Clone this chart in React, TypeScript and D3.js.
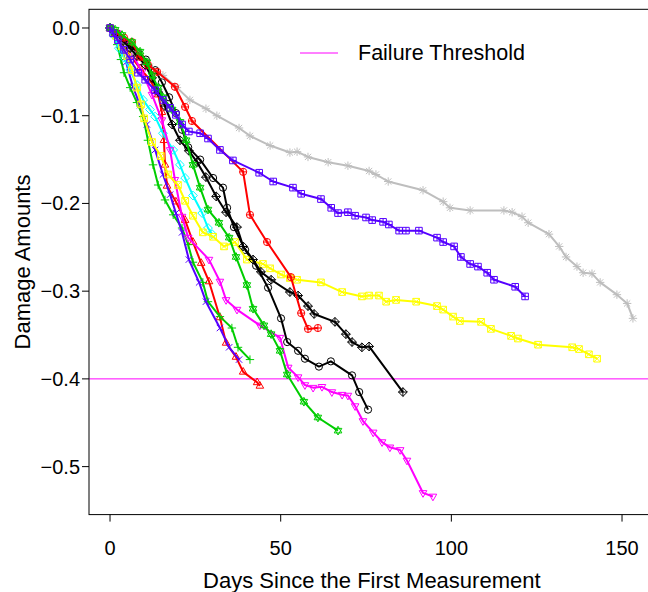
import React from "react";
import * as d3 from "d3";

const W = 648;
const H = 592;

// series data: [days, damage]
const s1: [number, number][] = [[0,0],[2.1,-0.006],[4.1,-0.014],[6.2,-0.021],[8.2,-0.028],[10.5,-0.036],[13.2,-0.048],[15.2,-0.062],[17.3,-0.079],[19.3,-0.097],[21.1,-0.116],[22.9,-0.136],[26.4,-0.15],[30.2,-0.171],[33.1,-0.182],[34.3,-0.205],[36.3,-0.227],[39.6,-0.253],[42.8,-0.271],[46.3,-0.296],[50.1,-0.331],[51.9,-0.358],[55.1,-0.368],[57.1,-0.377],[61.2,-0.386],[64.7,-0.38],[70.9,-0.396],[73.0,-0.415],[75.6,-0.435]];
const s2: [number, number][] = [[0,0],[1.5,-0.006],[3.5,-0.016],[5.9,-0.031],[8.8,-0.046],[11.7,-0.059],[14.1,-0.076],[15.2,-0.096],[15.8,-0.128],[16.1,-0.156],[16.7,-0.18],[19.3,-0.198],[22.0,-0.219],[24.3,-0.244],[26.7,-0.268],[29.0,-0.289],[32.2,-0.33],[34.0,-0.359],[36.9,-0.375],[39.0,-0.392],[43.1,-0.404],[43.9,-0.408]];
const s3: [number, number][] = [[0,0],[0.9,-0.008],[2.1,-0.019],[3.2,-0.036],[4.1,-0.051],[5.9,-0.068],[7.9,-0.085],[9.7,-0.101],[11.1,-0.128],[12.6,-0.156],[14.1,-0.179],[16.1,-0.196],[18.5,-0.213],[21.1,-0.228],[22.9,-0.247],[24.3,-0.267],[27.2,-0.29],[28.7,-0.312],[32.2,-0.329],[35.7,-0.342],[37.5,-0.364],[41.0,-0.378]];
const s4: [number, number][] = [[0,0],[1.2,-0.007],[2.9,-0.019],[4.7,-0.039],[6.7,-0.067],[8.8,-0.088],[10.8,-0.11],[13.2,-0.139],[15.5,-0.167],[17.6,-0.19],[19.3,-0.211],[21.1,-0.233],[23.1,-0.264],[26.1,-0.29],[28.1,-0.312],[32.2,-0.342],[34.9,-0.364],[37.8,-0.378]];
const s5: [number, number][] = [[0,0],[1.2,-0.009],[2.6,-0.023],[4.1,-0.034],[5.9,-0.048],[7.9,-0.065],[9.7,-0.082],[11.7,-0.093],[13.2,-0.101],[15.5,-0.12],[18.5,-0.139],[20.5,-0.156],[22.0,-0.171],[24.3,-0.191],[27.0,-0.211],[28.7,-0.228],[29.9,-0.235]];
const s6: [number, number][] = [[0,0],[2.1,-0.006],[4.4,-0.016],[6.7,-0.031],[9.4,-0.05],[12.3,-0.076],[15.2,-0.105],[17.6,-0.139],[19.0,-0.173],[21.1,-0.215],[22.9,-0.239],[29.0,-0.264],[32.2,-0.289],[34.0,-0.31],[37.2,-0.321],[43.9,-0.339],[49.8,-0.353],[52.2,-0.387],[55.1,-0.398],[57.1,-0.407],[59.5,-0.41],[62.1,-0.409],[65.0,-0.415],[68.0,-0.418],[69.7,-0.419],[71.8,-0.431],[74.1,-0.448],[77.1,-0.461],[79.7,-0.472],[82.0,-0.478],[85.0,-0.481],[87.0,-0.493],[91.7,-0.53],[94.6,-0.534]];
const s7: [number, number][] = [[0,0],[1.8,-0.009],[3.5,-0.021],[5.0,-0.032],[6.4,-0.048],[7.9,-0.068],[9.1,-0.087],[10.0,-0.103],[12.3,-0.13],[14.9,-0.146],[17.0,-0.167],[19.9,-0.179],[22.0,-0.197],[24.3,-0.214],[27.2,-0.233],[30.2,-0.238],[33.4,-0.249],[36.6,-0.244],[40.1,-0.264],[44.8,-0.269],[46.9,-0.274],[50.1,-0.281],[52.7,-0.285],[54.8,-0.287],[61.8,-0.29],[68.0,-0.301],[73.8,-0.306],[75.9,-0.305],[78.8,-0.305],[80.9,-0.312],[83.8,-0.31],[89.7,-0.312],[95.8,-0.317],[97.6,-0.321],[100.5,-0.329],[102.5,-0.334],[108.7,-0.335],[111.6,-0.343],[117.5,-0.351],[119.5,-0.354],[125.4,-0.361],[135.4,-0.364],[137.4,-0.366],[140.3,-0.372],[142.7,-0.377]];
const s8: [number, number][] = [[0,0],[2.9,-0.014],[7.3,-0.031],[11.7,-0.044],[15.5,-0.054],[19.6,-0.068],[23.4,-0.082],[28.1,-0.092],[31.3,-0.1],[37.8,-0.114],[41.0,-0.123],[46.9,-0.134],[52.7,-0.142],[54.8,-0.141],[58.0,-0.147],[63.9,-0.153],[69.7,-0.157],[75.9,-0.163],[77.9,-0.167],[81.5,-0.175],[91.7,-0.185],[97.6,-0.198],[99.6,-0.205],[105.5,-0.208],[115.4,-0.208],[117.8,-0.21],[120.7,-0.215],[122.5,-0.222],[128.6,-0.235],[131.6,-0.249],[133.6,-0.261],[136.8,-0.272],[138.6,-0.279],[141.2,-0.28],[143.6,-0.29],[148.5,-0.304],[151.5,-0.314],[153.2,-0.331]];
const s9: [number, number][] = [[0,0],[1.8,-0.007],[3.8,-0.015],[5.9,-0.023],[7.9,-0.032],[10.3,-0.042],[12.3,-0.057],[14.1,-0.073],[16.1,-0.089],[18.2,-0.11],[20.5,-0.128],[23.1,-0.14],[25.5,-0.153],[28.1,-0.17],[31.1,-0.192],[34.0,-0.21],[37.2,-0.227],[39.0,-0.249],[41.9,-0.264],[44.2,-0.278],[47.2,-0.287],[52.7,-0.301],[55.1,-0.305],[58.0,-0.317],[59.8,-0.326],[65.9,-0.335],[69.1,-0.349],[70.9,-0.358],[73.8,-0.364],[75.9,-0.363],[85.8,-0.415]];
const s10: [number, number][] = [[0,0],[1.8,-0.006],[4.1,-0.011],[6.4,-0.016],[8.8,-0.033],[11.1,-0.042],[13.8,-0.05],[19.0,-0.067],[22.0,-0.09],[24.0,-0.106],[39.0,-0.164],[41.0,-0.213],[46.0,-0.244],[53.0,-0.284],[56.0,-0.325],[58.0,-0.343],[60.9,-0.342]];
const s11: [number, number][] = [[0,0],[1.5,-0.002],[3.5,-0.008],[6.4,-0.016],[8.8,-0.027],[10.8,-0.039],[12.3,-0.054],[14.1,-0.068],[15.5,-0.079],[18.2,-0.093],[20.5,-0.107],[22.3,-0.128],[24.3,-0.156],[26.4,-0.182],[28.7,-0.207],[31.9,-0.222],[34.9,-0.239],[36.9,-0.261],[40.1,-0.293],[41.9,-0.32],[45.1,-0.339],[47.2,-0.349],[49.8,-0.368],[51.9,-0.395],[56.8,-0.426],[60.9,-0.444],[66.8,-0.459]];
const s12: [number, number][] = [[0,0],[0.9,-0.006],[2.3,-0.014],[4.1,-0.025],[5.9,-0.036],[8.2,-0.051],[10.3,-0.059],[13.2,-0.071],[15.5,-0.082],[17.6,-0.091],[19.3,-0.099],[21.1,-0.11],[23.1,-0.118],[26.4,-0.12],[28.7,-0.126],[32.2,-0.139],[36.0,-0.151],[43.7,-0.165],[47.8,-0.175],[53.6,-0.182],[56.0,-0.189],[61.8,-0.195],[64.8,-0.205],[66.8,-0.211],[69.7,-0.21],[71.8,-0.214],[75.0,-0.216],[76.8,-0.219],[80.0,-0.221],[81.7,-0.224],[84.7,-0.231],[86.7,-0.231],[90.5,-0.231],[95.8,-0.239],[97.6,-0.244],[100.8,-0.249],[102.8,-0.261],[105.5,-0.269],[107.8,-0.272],[110.5,-0.279],[112.5,-0.287],[118.7,-0.295],[121.6,-0.306]];

const seriesList = [s1, s2, s3, s4, s5, s6, s7, s8, s9, s10, s11, s12];
const seriesColors = ["#000000", "#FF0000", "#00CD00", "#5500FF", "#00FFFF", "#FF00FF", "#FFFF00", "#BEBEBE", "#000000", "#FF0000", "#00CD00", "#5500FF"];
const seriesPch = [1, 2, 3, 4, 5, 6, 7, 8, 9, 10, 11, 12];

const xTicks = [0, 50, 100, 150];
const yTicks = [0, -0.1, -0.2, -0.3, -0.4, -0.5];
const yTickLabels = ["0.0", "\u22120.1", "\u22120.2", "\u22120.3", "\u22120.4", "\u22120.5"];
const threshold = -0.4;
const legendLabel = "Failure Threshold";
const xTitle = "Days Since the First Measurement";
const yTitle = "Damage Amounts";

const FONT = "'Liberation Sans', Arial, Helvetica, sans-serif";

function markerPath(pch: number): string {
  const p = d3.path();
  const circle = (r: number) => { p.moveTo(r, 0); p.arc(0, 0, r, 0, Math.PI * 2); };
  const plus = (s: number) => { p.moveTo(-s, 0); p.lineTo(s, 0); p.moveTo(0, -s); p.lineTo(0, s); };
  const cross = (s: number) => { p.moveTo(-s, -s); p.lineTo(s, s); p.moveTo(-s, s); p.lineTo(s, -s); };
  const square = (s: number) => { p.rect(-s, -s, 2 * s, 2 * s); };
  const diamond = (s: number) => { p.moveTo(0, -s); p.lineTo(s, 0); p.lineTo(0, s); p.lineTo(-s, 0); p.closePath(); };
  const triUp = (s: number) => { p.moveTo(0, -s * 1.15); p.lineTo(s, s * 0.6); p.lineTo(-s, s * 0.6); p.closePath(); };
  const triDown = (s: number) => { p.moveTo(0, s * 1.15); p.lineTo(s, -s * 0.6); p.lineTo(-s, -s * 0.6); p.closePath(); };
  switch (pch) {
    case 1: circle(3.6); break;
    case 2: triUp(3.8); break;
    case 3: plus(4.2); break;
    case 4: cross(3.2); break;
    case 5: diamond(4.4); break;
    case 6: triDown(3.8); break;
    case 7: square(3.3); cross(3.3); break;
    case 8: plus(4.2); cross(3.1); break;
    case 9: diamond(4.4); plus(4.4); break;
    case 10: circle(3.6); plus(3.6); break;
    case 11: triUp(3.8); triDown(3.8); break;
    case 12: square(3.3); plus(3.3); break;
  }
  return p.toString();
}

export default function App() {
  const left = 89, right = 656.7, top = 9.3, bottom = 514.6;
  const x = d3.scaleLinear().domain([-6.16, 160.16]).range([left, right]);
  const y = d3.scaleLinear().domain([-0.5547, 0.0213]).range([bottom, top]);
  const line = d3.line<[number, number]>().x(d => x(d[0])).y(d => y(d[1]));

  return (
    <svg width={W} height={H} style={{ position: "absolute", left: 0, top: 0, background: "#fff" }} fontFamily={FONT}>
      <rect x={0} y={0} width={W} height={H} fill="#fff" />
      <line x1={left} x2={right} y1={y(threshold)} y2={y(threshold)} stroke="#FF00FF" strokeWidth={1} />
      {seriesList.map((s, i) => (
        <g key={i}>
          <path d={line(s) || ""} fill="none" stroke={seriesColors[i]} strokeWidth={2} strokeLinejoin="round" />
          {s.map((d, j) => (
            <path key={j} d={markerPath(seriesPch[i])} transform={`translate(${x(d[0])},${y(d[1])})`} fill="none" stroke={seriesColors[i]} strokeWidth={1} />
          ))}
        </g>
      ))}
      <rect x={left} y={top} width={right - left} height={bottom - top} fill="none" stroke="#000" strokeWidth={1} />
      {xTicks.map((t, i) => (
        <g key={i}>
          <line x1={x(t)} x2={x(t)} y1={bottom} y2={bottom + 7} stroke="#000" />
          <text x={x(t)} y={548} textAnchor="middle" dominantBaseline="central" fontSize={20}>{t}</text>
        </g>
      ))}
      {yTicks.map((t, i) => (
        <g key={i}>
          <line x1={left} x2={left - 7} y1={y(t)} y2={y(t)} stroke="#000" />
          <text x={80} y={y(t)} textAnchor="end" dominantBaseline="central" fontSize={20}>{yTickLabels[i]}</text>
        </g>
      ))}
      <text x={(left + right) / 2 - 1} y={580} textAnchor="middle" dominantBaseline="central" fontSize={22}>{xTitle}</text>
      <text transform={`translate(22,${(top + bottom) / 2}) rotate(-90)`} textAnchor="middle" dominantBaseline="central" fontSize={22}>{yTitle}</text>
      <line x1={300} x2={338} y1={53} y2={53} stroke="#FF00FF" strokeWidth={1} />
      <text x={358} y={53} dominantBaseline="central" fontSize={21.5}>{legendLabel}</text>
    </svg>
  );
}
